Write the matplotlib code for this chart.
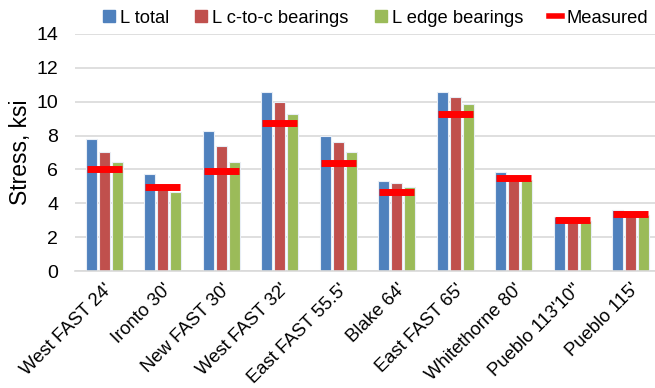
import matplotlib.pyplot as plt
import numpy as np
from matplotlib.lines import Line2D

plt.rcParams['font.family'] = ['Liberation Sans', 'DejaVu Sans']

bridges = ["West FAST 24'", "Ironto 30'", "New FAST 30'", "West FAST 32'", "East FAST 55.5'",
           "Blake 64'", "East FAST 65'", "Whitethorne 80'", "Pueblo 113'10\"", "Pueblo 115'"]
l_total = [7.8, 5.75, 8.25, 10.6, 8.0, 5.33, 10.6, 5.82, 3.17, 3.62]
l_ctoc = [7.0, 5.05, 7.37, 10.0, 7.6, 5.19, 10.25, 5.55, 3.05, 3.4]
l_edge = [6.45, 4.68, 6.43, 9.3, 7.02, 4.96, 9.84, 5.37, 2.95, 3.32]
measured = [6.02, 4.97, 5.92, 8.72, 6.35, 4.68, 9.28, 5.47, 3.03, 3.35]

colors = ['#4F81BD', '#C0504D', '#9BBB59']
labels = ['L total', 'L c-to-c bearings', 'L edge bearings']

fig = plt.figure(figsize=(6.55, 3.88), dpi=100)
ax = fig.add_axes([0.1145, 0.3015, 0.893, 0.611])

x = np.arange(len(bridges))
width = 0.19
step = 0.222
for i, (vals, c) in enumerate(zip([l_total, l_ctoc, l_edge], colors)):
    ax.bar(x + (i - 1) * step, vals, width, color=c, edgecolor='#E8EEF6', linewidth=0.8,
           zorder=2, label=labels[i])
ax.hlines(measured, x - 0.3, x + 0.3, color='#FF0000', linewidth=5, zorder=3)

ax.set_xlim(-0.5, len(bridges) - 0.5)
ax.set_ylim(0, 14)
ax.set_yticks(range(0, 15, 2))
ax.yaxis.grid(True, color='#D9D9D9', linewidth=1.2, zorder=0)
ax.set_axisbelow(True)
for side in ['top', 'right', 'left']:
    ax.spines[side].set_visible(False)
ax.spines['bottom'].set_color('#D9D9D9')
ax.spines['bottom'].set_linewidth(1.2)
ax.tick_params(length=0, labelsize=14, pad=12)
ax.set_xticks(x)
ax.set_xticklabels(bridges, rotation=45, ha='right', rotation_mode='anchor', fontsize=13.3)
ax.tick_params(axis='x', pad=7)
ax.set_ylabel('Stress, ksi', fontsize=16.5, labelpad=3)

handles = [Line2D([], [], marker='s', linestyle='none', color=c, markersize=8) for c in colors]
handles.append(Line2D([], [], color='#FF0000', linewidth=4))
fig.legend(handles, labels + ['Measured'], loc='center', bbox_to_anchor=(0.573, 0.953), ncol=4,
           frameon=False, fontsize=13.2, handlelength=0.7, handletextpad=0.25, columnspacing=1.4)

fig.savefig('out.png', dpi=100)
